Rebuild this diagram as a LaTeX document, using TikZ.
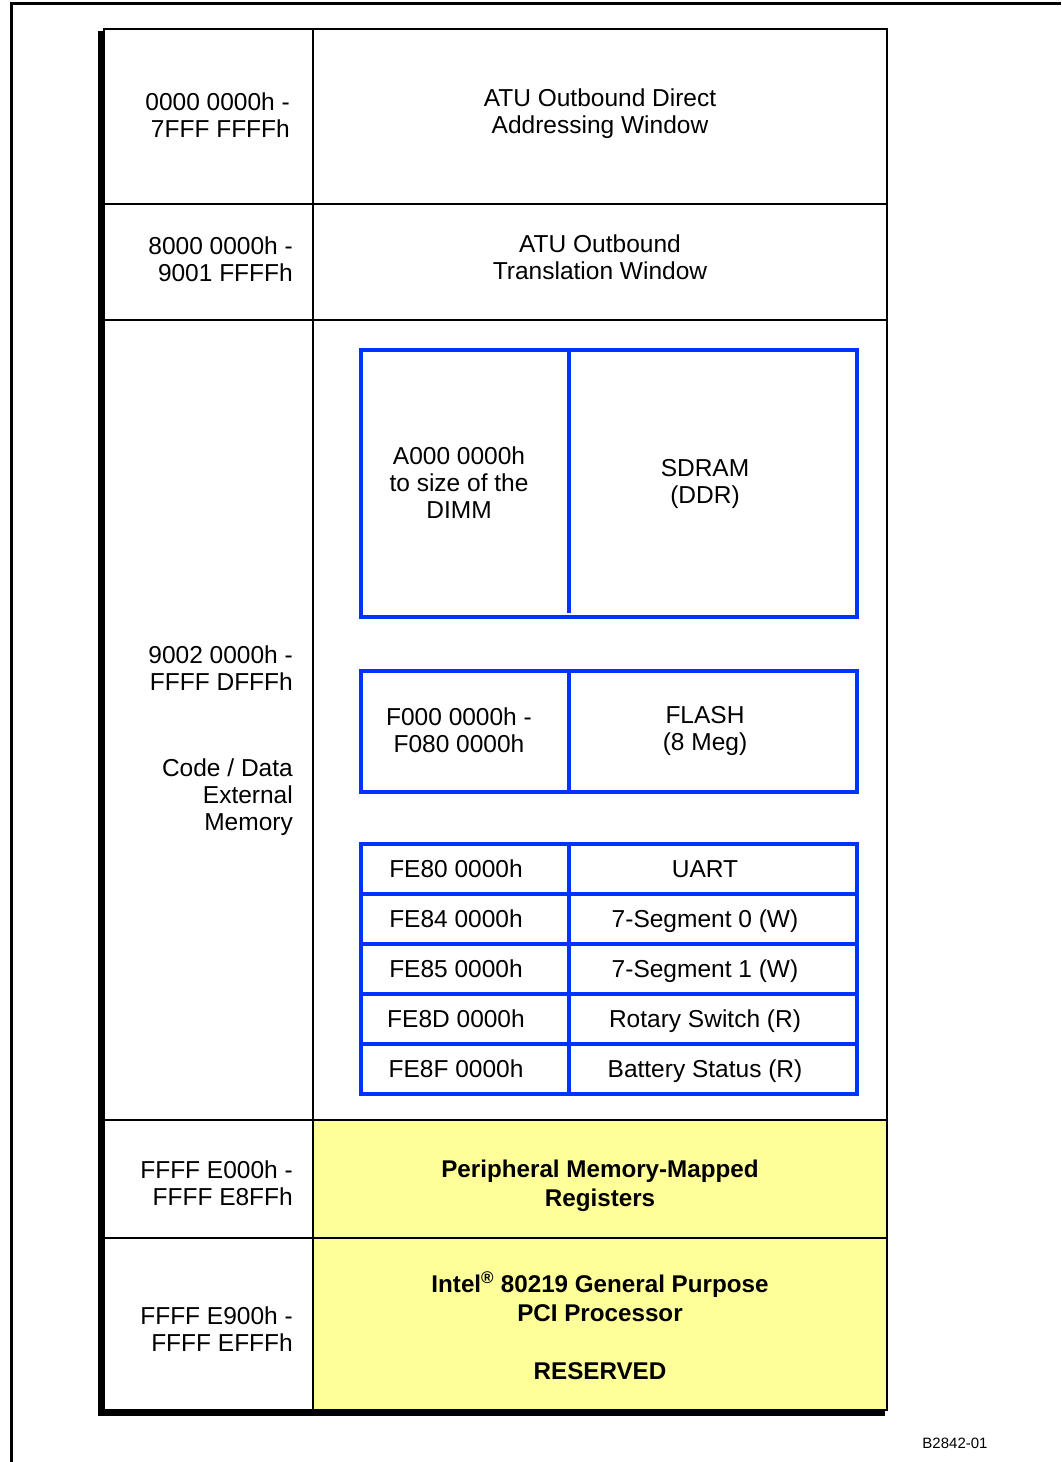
\documentclass[tikz,border=0pt]{standalone}
\usepackage{fontspec}
\setmainfont{Liberation Sans}
\definecolor{mapblue}{RGB}{0,51,255}
\definecolor{mapyellow}{RGB}{255,255,153}
\tikzset{
  grid line/.style={draw=black, line width=2pt},
  blue line/.style={draw=mapblue, line width=4pt},
  addr/.style={anchor=east, align=right, inner sep=0pt, font=\fontsize{24.5}{27}\selectfont},
  desc/.style={align=center, inner sep=0pt, font=\fontsize{24.5}{27}\selectfont},
  bold desc/.style={desc, font=\fontsize{24.2}{29}\selectfont\bfseries},
  row text/.style={anchor=base, inner sep=0pt, font=\fontsize{24.5}{27}\selectfont},
}
\begin{document}
\begin{tikzpicture}[x=1pt, y=-1pt]
  \useasboundingbox (0,0) rectangle (1061,1462);
  % page frame
  \draw[line width=3pt] (11,1462) -- (11,3) -- (1061,3);
  % shadow and table body
  \fill[black] (98,31) rectangle (885,1416);
  \fill[white] (104,29) rectangle (887,1410);
  \fill[mapyellow] (313,1120) rectangle (887,1410);
  \draw[grid line] (104,29) rectangle (887,1410);
  \draw[grid line] (313,29) -- (313,1410);
  \foreach \y in {204,320,1120,1238}
    \draw[grid line] (104,\y) -- (887,\y);

  % left column
  \node[addr] (r1) at (290,115) {0000 0000h -\\7FFF FFFFh};
  \node[addr] (r2) at (293,259) {8000 0000h -\\9001 FFFFh};
  \node[addr] (r3) at (293,668) {9002 0000h -\\FFFF DFFFh};
  \node[addr] (r3b) at (293,797) {Code / Data\\External\\Memory};
  \node[addr] (r4) at (293,1183) {FFFF E000h -\\FFFF E8FFh};
  \node[addr] (r5) at (293,1329) {FFFF E900h -\\FFFF EFFFh};

  % right column
  \node[desc] (d1) at (600,114) {ATU Outbound Direct\\Addressing Window};
  \node[desc] (d2) at (600,257) {ATU Outbound\\Translation Window};
  \node[bold desc] (d4) at (600,1186) {Peripheral Memory-Mapped\\Registers};
  \node[bold desc] (d5) at (600,1326) {Intel\textsuperscript{\textregistered} 80219 General Purpose\\PCI Processor\\[29pt]RESERVED};

  % SDRAM box
  \draw[blue line] (361,350) rectangle (857,617);
  \draw[blue line] (569,350) -- (569,613);
  \node[desc] (dimm) at (459,483) {A000 0000h\\to size of the\\DIMM};
  \node[desc] (sdram) at (705,484) {SDRAM\\(DDR)};

  % FLASH box
  \draw[blue line] (361,671) rectangle (857,792);
  \draw[blue line] (569,671) -- (569,792);
  \node[desc] (fl) at (459,730) {F000 0000h -\\F080 0000h};
  \node[desc] (flash) at (705,731) {FLASH\\(8 Meg)};

  % peripheral boxes
  \draw[blue line] (361,844) rectangle (857,1094);
  \draw[blue line] (569,844) -- (569,1094);
  \foreach \y in {894,944,994,1044}
    \draw[blue line] (361,\y) -- (857,\y);
  \foreach \a/\d [count=\i] in {FE80 0000h/UART, FE84 0000h/7-Segment 0 (W),
      FE85 0000h/7-Segment 1 (W), FE8D 0000h/Rotary Switch (R),
      FE8F 0000h/Battery Status (R)} {
    \node[row text] (pa\i) at (456,827+50*\i) {\a};
    \node[row text] (pd\i) at (705,827+50*\i) {\d};
  }

  \node[font=\fontsize{15}{17}\selectfont] (fig) at (955,1443) {B2842-01};
\end{tikzpicture}
\end{document}
